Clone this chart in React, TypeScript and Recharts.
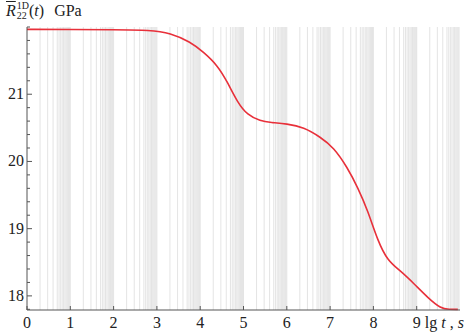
import { ComposedChart, Line, XAxis, YAxis, ReferenceLine } from 'recharts';

// lg t (decimal log of time, s)
const LG_T = [0, 1, 2, 2.85, 3.31, 3.77, 4.07, 4.4, 4.63, 4.86, 5.09, 5.39, 5.63, 6.0, 6.39, 6.78, 7.08, 7.4, 7.64, 7.87, 8.1, 8.33, 8.63, 8.94, 9.26, 9.56, 9.75, 9.95];
// relaxation modulus, GPa
const R22 = [21.965, 21.962, 21.958, 21.955, 21.91, 21.78, 21.63, 21.43, 21.18, 20.88, 20.69, 20.6, 20.58, 20.56, 20.51, 20.36, 20.21, 19.91, 19.61, 19.27, 18.82, 18.52, 18.37, 18.18, 17.97, 17.81, 17.8, 17.8];

const X_TICKS = [0, 1, 2, 3, 4, 5, 6, 7, 8, 9, 10];
const Y_TICKS = [17.8, 18, 18.2, 18.4, 18.6, 18.8, 19, 19.2, 19.4, 19.6, 19.8, 20, 20.2, 20.4, 20.6, 20.8, 21, 21.2, 21.4, 21.6, 21.8, 22];
const DECADES = [0, 1, 2, 3, 4, 5, 6, 7, 8, 9];
// multipliers inside each decade where the log grid lines sit
const MINOR_K = [1, 2, 3, 4, 5, 5.5, 6, 6.5, 7, 7.5, 8, 8.5, 9, 9.5];

const data = LG_T.map((x, i) => ({ x, r: R22[i] }));
const gridX = DECADES.flatMap(d => MINOR_K.map(k => d + Math.log10(k))).filter(v => v > 0.01);

const FONT = "'Liberation Serif', 'DejaVu Serif', serif";
const AXIS = '#555';

function XTick({ x, y, payload }: any) {
  const v = payload.value;
  if (v === 10) {
    return (
      <text x={x + 4} y={y + 18} textAnchor="end" fontFamily={FONT} fontSize={16} fill="#222">
        lg <tspan fontStyle="italic">t</tspan> , <tspan fontStyle="italic">s</tspan>
      </text>
    );
  }
  return (
    <g>
      <line x1={x} x2={x} y1={y} y2={y - 4} stroke={AXIS} />
      <text x={x} y={y + 18} textAnchor="middle" fontFamily={FONT} fontSize={16} fill="#222">{v}</text>
    </g>
  );
}

function YTick({ x, y, payload }: any) {
  const v = payload.value;
  const major = Math.abs(v - Math.round(v)) < 0.01 && v >= 18 && v <= 21;
  return (
    <g>
      <line x1={x} x2={x + (major ? 5 : 3)} y1={y} y2={y} stroke={AXIS} />
      {major && (
        <text x={x - 3} y={y + 5} textAnchor="end" fontFamily={FONT} fontSize={16} fill="#222">{v}</text>
      )}
    </g>
  );
}

export default function App() {
  return (
    <div style={{ position: 'absolute', left: 0, top: 0, width: 464, height: 333, background: '#fff' }}>
      <div style={{ position: 'absolute', left: 6, top: 1, fontFamily: FONT, fontSize: 16, color: '#222', whiteSpace: 'nowrap', display: 'flex', alignItems: 'center' }}>
        <span style={{ fontStyle: 'italic', textDecoration: 'overline' }}>R</span>
        <span style={{ display: 'inline-flex', flexDirection: 'column', fontSize: 10, lineHeight: '10px', marginLeft: 1 }}>
          <span>1D</span>
          <span>22</span>
        </span>
        <span>(<i>t</i>)</span>
        <span style={{ marginLeft: 10 }}>GPa</span>
      </div>
      <ComposedChart width={464} height={333} data={data} margin={{ top: 27, right: 4, bottom: 0, left: 0 }}>
        {gridX.map(g => (
          <ReferenceLine key={g} x={g} stroke="#d2d2d2" strokeWidth={0.6} ifOverflow="hidden" />
        ))}
        <XAxis
          dataKey="x"
          type="number"
          domain={[0, 10]}
          ticks={X_TICKS}
          interval={0}
          height={23}
          axisLine={{ stroke: AXIS }}
          tickLine={false}
          tickSize={0}
          tickMargin={0}
          tick={<XTick />}
        />
        <YAxis
          type="number"
          domain={[17.79, 22]}
          ticks={Y_TICKS}
          interval={0}
          width={27}
          axisLine={{ stroke: AXIS }}
          tickLine={false}
          tickSize={0}
          tickMargin={0}
          tick={<YTick />}
        />
        <Line
          dataKey="r"
          type="basis"
          stroke="#e8303a"
          strokeWidth={1.6}
          dot={false}
          isAnimationActive={false}
        />
      </ComposedChart>
    </div>
  );
}
